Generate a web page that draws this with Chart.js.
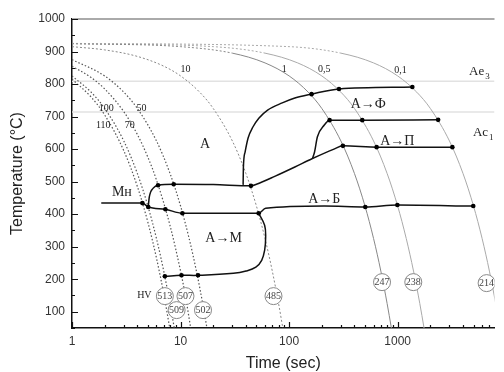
<!DOCTYPE html>
<html>
<head>
<meta charset="utf-8">
<script src="https://cdn.jsdelivr.net/npm/chart.js@4.4.0/dist/chart.umd.min.js"></script>
<style>
  html, body { margin: 0; padding: 0; background: #fff; }
</style>
</head>
<body>
<canvas id="cct" width="504" height="372"></canvas>
<script>
// time ticks (s) and temperature ticks (°C)
const xTickValues = [1,2,3,4,5,6,7,8,9,10,20,30,40,50,60,70,80,90,100,200,300,400,500,600,700,800,900,1000,2000,3000,4000,5000,6000,7000];
const xTickLabels = {1: "1", 10: "10", 100: "100", 1000: "1000"};
const yTickLabels = [100, 200, 300, 400, 500, 600, 700, 800, 900, 1000];

// cooling curves [time, temp], labelled by rate °C/s
const cool110 = [[1,815],[1.5,760],[2,705],[3,595],[4,485],[5,375],[6,265],[7,155],[7.95,50]];
const cool100 = [[1,825],[1.5,775],[2,725],[3,625],[4,525],[5,425],[6,325],[7,225],[8,125],[8.75,50]];
const cool70 = [[1,855],[1.5,820],[2,785],[3,715],[4,645],[5,575],[6,505],[8,365],[10,225],[11,155],[12.4,50]];
const cool50 = [[1,875],[2,825],[3,775],[4,725],[6,625],[8,525],[10,425],[12,325],[14,225],[16,125],[17.5,50]];
const cool10 = [[1,915],[2,905],[4,885],[7,855],[10,825],[15,775],[20,725],[30,625],[40,525],[50,425],[60,325],[70,225],[80,125],[87.5,50]];
const cool1 = [[1,924],[10,915],[30,895],[60,865],[100,825],[150,775],[200,725],[300,625],[400,525],[500,425],[600,325],[700,225],[800,125],[875,50]];
const cool05 = [[1,924.5],[20,915],[60,895],[120,865],[200,825],[300,775],[400,725],[600,625],[800,525],[1000,425],[1200,325],[1400,225],[1600,125],[1750,50]];
const cool01 = [[1,925],[100,915],[300,895],[600,865],[1000,825],[1500,775],[2000,725],[3000,625],[4000,525],[5000,425],[6000,325],[7000,225],[8000,125],[8750,50]];

// critical temperatures
const ae3Line = [[1,809],[7800,809]];
const ac1Line = [[1,714],[7800,714]];

// transformation lines
const ferriteStart = [[37.7,490],[37.9,541],[39.3,591],[41.9,634],[46.4,668],[52.6,695],[63.4,720],[86.5,742],[113,757],[161,769],[288,785],[1365,791]];
const pearliteStart = [[164,571],[171.6,591],[182,637],[211,674],[236,689],[472,689],[2360,690]];
const bainiteStart = [[5.04,422],[5.15,452],[5.6,480],[6.2,489],[8.65,492],[20,491],[44.5,487],[50,492],[74.6,517],[113,545],[164,571],[259,600],[313,610],[660,606],[3264,606]];
const lowerLine = [[1.86,434],[4.45,434],[5.04,422],[7.25,415],[10.4,403],[52.4,403],[60.8,418],[211,425],[503,422],[994,428],[4970,425]];
const martensiteEnd = [[7.17,209],[10.2,212],[14.5,212],[30.7,218],[40.1,225],[49.4,237],[55.9,258],[59.5,289],[60.8,329],[59.5,366],[52.4,403]];

// intersection points
const dots = [[4.45,434],[5.04,422],[6.2,489],[8.65,492],[44.5,487],[7.25,415],[10.4,403],[52.4,403],
  [503,422],[994,428],[4970,425],[313,610],[640,606],[3190,606],[236,689],[472,689],[2360,690],
  [161,769],[288,785],[1365,791],[7.17,209],[10.2,212],[14.5,212]];

// hardness HV
const hvPos = [[7.17,148],[11.1,148],[9.2,105],[16.1,105],[71.8,148],[718,191],[1393,191],[6600,188]];
const hvValues = ["513","507","509","502","485","247","238","214"];

const toXY = arr => arr.map(([x, y]) => ({x, y}));

function curve(arr, color, width, dash, extra) {
  return Object.assign({
    data: toXY(arr),
    showLine: true,
    borderColor: color,
    borderWidth: width,
    borderDash: dash,
    pointRadius: 0,
    cubicInterpolationMode: "monotone",
    order: 3
  }, extra || {});
}

const dottedStart = { segment: { borderDash: ctx => ctx.p0.parsed.y > 900 ? [2, 2] : undefined } };

const datasets = [
  { data: hvPos.map(([x, y]) => ({x, y})), pointRadius: 8.5, pointBackgroundColor: "#fff",
    pointBorderColor: "#888", pointBorderWidth: 1, showLine: false, order: 0 },
  { data: toXY(dots), pointRadius: 2.3, pointBackgroundColor: "#000", pointBorderWidth: 0, showLine: false, order: 1 },
  curve(ferriteStart, "#111", 1.5, [], { order: 2 }),
  curve(pearliteStart, "#111", 1.5, [], { order: 2 }),
  curve(bainiteStart, "#111", 1.5, [], { order: 2 }),
  curve(lowerLine, "#111", 1.5, [], { order: 2 }),
  curve(martensiteEnd, "#111", 1.5, [], { order: 2, cubicInterpolationMode: "default", tension: 0.4 }),
  curve(cool110, "#555", 1.2, [1.5, 2]),
  curve(cool100, "#555", 1.2, [1.5, 2]),
  curve(cool70, "#555", 1.2, [1.5, 2]),
  curve(cool50, "#555", 1.2, [1.5, 2]),
  curve(cool10, "#888", 1, [2, 2]),
  curve(cool1, "#888", 1, [], dottedStart),
  curve(cool05, "#aaa", 1, [], dottedStart),
  curve(cool01, "#aaa", 1, [], dottedStart),
  curve(ae3Line, "#e2e2e2", 1.5, [], { order: 4 }),
  curve(ac1Line, "#e2e2e2", 1.5, [], { order: 4 })
];

// text in the plot, placed in data units
const notes = [
  { text: "А", x: 16.8, y: 615, size: 14 },
  { text: "А→Ф", x: 537, y: 738, size: 14 },
  { text: "А→П", x: 993, y: 625, size: 14 },
  { text: "А→Б", x: 211, y: 446, size: 14 },
  { text: "А→М", x: 24.9, y: 326, size: 14 },
  { text: "Мн", x: 2.88, y: 468, size: 14 },
  { text: "HV", x: 4.64, y: 151, size: 10 },
  { text: "110", x: 1.94, y: 674, size: 10 },
  { text: "70", x: 3.4, y: 674, size: 10 },
  { text: "100", x: 2.07, y: 726, size: 10 },
  { text: "50", x: 4.36, y: 726, size: 10 },
  { text: "10", x: 11.1, y: 846, size: 10 },
  { text: "1", x: 90, y: 846, size: 10 },
  { text: "0,5", x: 211, y: 846, size: 10 },
  { text: "0,1", x: 1064, y: 843, size: 10 },
  { text: "Ae", sub: "3", x: 4550, y: 837, size: 13, align: "left" },
  { text: "Ac", sub: "1", x: 4940, y: 652, size: 13, align: "left" }
];

const decorPlugin = {
  id: "decor",
  afterDatasetsDraw(chart) {
    const {ctx, chartArea: area, scales: {x, y}} = chart;
    ctx.save();
    // top frame
    ctx.strokeStyle = "#aaa";
    ctx.lineWidth = 2;
    ctx.beginPath();
    ctx.moveTo(area.left, area.top);
    ctx.lineTo(area.right, area.top);
    ctx.stroke();
    // inward ticks
    ctx.strokeStyle = "#111";
    ctx.lineWidth = 1.2;
    ctx.beginPath();
    xTickValues.forEach(v => {
      const px = Math.round(x.getPixelForValue(v)) + 0.5;
      const len = xTickLabels[v] ? 6 : 3;
      ctx.moveTo(px, area.bottom);
      ctx.lineTo(px, area.bottom - len);
    });
    for (let v = 50; v <= 1000; v += 50) {
      const py = Math.round(y.getPixelForValue(v)) + 0.5;
      const len = v % 100 === 0 ? 6 : 3;
      ctx.moveTo(area.left, py);
      ctx.lineTo(area.left + len, py);
    }
    ctx.stroke();
    // hardness numbers
    ctx.fillStyle = "#444";
    ctx.font = "10px 'Liberation Serif'";
    ctx.textAlign = "center";
    ctx.textBaseline = "middle";
    hvPos.forEach(([t, T], i) => {
      ctx.fillText(hvValues[i], x.getPixelForValue(t), y.getPixelForValue(T) + 0.5);
    });
    // labels
    ctx.fillStyle = "#222";
    notes.forEach(n => {
      const px = x.getPixelForValue(n.x);
      const py = y.getPixelForValue(n.y);
      ctx.font = n.size + "px 'Liberation Serif'";
      ctx.textAlign = n.align || "center";
      ctx.fillText(n.text, px, py);
      if (n.sub) {
        const w = ctx.measureText(n.text).width;
        ctx.font = Math.round(n.size * 0.7) + "px 'Liberation Serif'";
        ctx.textAlign = "left";
        ctx.fillText(n.sub, px + w + 1, py + 5);
      }
    });
    ctx.restore();
  }
};

new Chart(document.getElementById("cct"), {
  type: "scatter",
  data: { datasets: datasets },
  options: {
    responsive: false,
    animation: false,
    events: [],
    layout: { padding: { top: 19, right: 0, left: 0, bottom: 0 } },
    plugins: { legend: { display: false }, tooltip: { enabled: false } },
    scales: {
      x: {
        type: "logarithmic",
        min: 1,
        max: 7800,
        afterBuildTicks: s => { s.ticks = xTickValues.map(v => ({ value: v })); },
        afterFit: s => { s.height = 44; },
        grid: { display: false, drawTicks: false },
        border: { display: true, color: "#111", width: 1.5 },
        ticks: {
          autoSkip: false,
          maxRotation: 0,
          padding: 6,
          color: "#333",
          font: { family: "'Liberation Sans'", size: 12 },
          callback: v => xTickLabels[v] || ""
        },
        title: {
          display: true,
          text: "Time (sec)",
          color: "#222",
          font: { family: "'Liberation Sans'", size: 16, lineHeight: 1 },
          padding: { top: 0, bottom: 0 }
        }
      },
      y: {
        min: 50,
        max: 1000,
        afterBuildTicks: s => { s.ticks = yTickLabels.map(v => ({ value: v })); },
        afterFit: s => { s.width = 72; },
        grid: { display: false, drawTicks: false },
        border: { display: true, color: "#111", width: 1.5 },
        ticks: {
          padding: 7,
          color: "#333",
          font: { family: "'Liberation Sans'", size: 12 },
          callback: v => String(v)
        },
        title: {
          display: true,
          text: "Temperature (°C)",
          color: "#222",
          font: { family: "'Liberation Sans'", size: 16, lineHeight: 1.2 },
          padding: { top: 8, bottom: 0 }
        }
      }
    }
  },
  plugins: [decorPlugin]
});
</script>
</body>
</html>
